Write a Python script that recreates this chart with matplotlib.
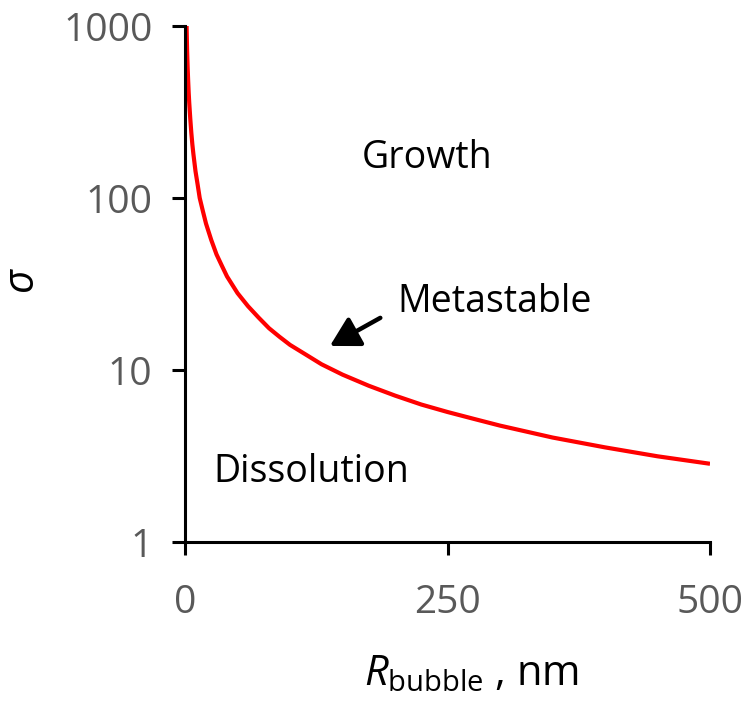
import matplotlib
matplotlib.use("Agg")
import matplotlib.pyplot as plt

plt.rcParams['font.family'] = ['Open Sans', 'DejaVu Sans']
plt.rcParams['mathtext.fontset'] = 'custom'
plt.rcParams['mathtext.rm'] = 'Open Sans'
plt.rcParams['mathtext.it'] = 'Open Sans:italic'

# Critical supersaturation versus bubble radius
radius_nm = [1.5, 1.75, 2, 2.5, 3, 3.5, 4, 5, 6, 7, 8, 10, 12, 14, 17, 20,
             25, 30, 35, 40, 50, 60, 70, 80, 90, 100, 115, 130, 150, 175,
             200, 225, 250, 275, 300, 350, 400, 450, 500]
sigma = [1000, 840, 720, 575, 480, 410, 360, 290, 240, 205, 180, 143, 120,
         100, 84, 71, 57, 47, 40.5, 35, 28, 23.5, 20.2, 17.5, 15.6, 14,
         12.3, 10.8, 9.4, 8.1, 7.1, 6.3, 5.7, 5.2, 4.75, 4.05, 3.55, 3.15,
         2.85]

x_ticks = [0, 250, 500]
y_ticks = [1, 10, 100, 1000]
y_tick_labels = ['1', '10', '100', '1000']

fig = plt.figure(figsize=(7.43, 7.05), dpi=100)
ax = fig.add_axes([0.249, 0.2312, 0.7066, 0.7319])

ax.plot(radius_nm, sigma, color='#ff0000', lw=3, solid_capstyle='butt',
        solid_joinstyle='round')

ax.set_yscale('log')
ax.set_xlim(0, 500)
ax.set_ylim(1, 1000)
ax.set_xticks(x_ticks)
ax.set_xticklabels([str(v) for v in x_ticks])
ax.set_yticks(y_ticks)
ax.set_yticklabels(y_tick_labels)
ax.minorticks_off()

for side in ('top', 'right'):
    ax.spines[side].set_visible(False)
for side in ('left', 'bottom'):
    ax.spines[side].set_linewidth(2.2)
    ax.spines[side].set_color('black')

ax.tick_params(axis='both', direction='out', length=9.5, width=2.2,
               color='black', labelcolor='#595959', labelsize=28)
ax.tick_params(axis='x', pad=21)
ax.tick_params(axis='y', pad=14)

ax.set_xlabel(r'$\mathit{R}_{\mathrm{bubble}}$ , nm', fontsize=30,
              color='black')
ax.xaxis.set_label_coords(0.545, -0.215)
ax.set_ylabel('σ', fontsize=30, style='italic', color='black')
ax.yaxis.set_label_coords(-0.272, 0.51)

ax.text(231, 171, 'Growth', fontsize=27, ha='center', va='center')
ax.text(295, 24.8, 'Metastable', fontsize=27, ha='center', va='center')
ax.text(120, 2.55, 'Dissolution', fontsize=27, ha='center', va='center')

ax.annotate('', xy=(138, 13.8), xytext=(186, 20.1),
            arrowprops=dict(arrowstyle='-|>,head_length=0.8,head_width=0.45',
                            lw=3.2, color='black', mutation_scale=22,
                            shrinkA=0, shrinkB=0))

fig.savefig('out.png', dpi=100)
